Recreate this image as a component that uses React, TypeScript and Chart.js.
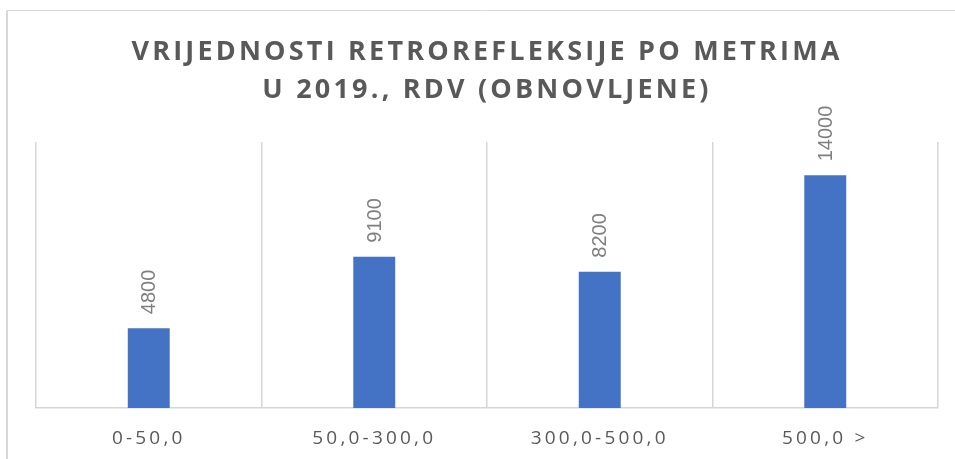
import React, { useEffect, useRef } from "react";
import { Chart, registerables } from "chart.js";

Chart.register(...registerables);

const categories = ["0-50,0", "50,0-300,0", "300,0-500,0", "500,0 >"];
const values = [4800, 9100, 8200, 14000];
const titleLines = ["VRIJEDNOSTI RETROREFLEKSIJE PO METRIMA", "U 2019., RDV (OBNOVLJENE)"];

const spacingPlugin = {
  id: "spacing",
  beforeDraw(chart: any) {
    const ctx = chart.ctx;
    ctx.save();
    ctx.fillStyle = "#ffffff";
    ctx.fillRect(0, 0, chart.width, chart.height);
    ctx.strokeStyle = "#d9d9d9";
    ctx.lineWidth = 1;
    ctx.beginPath();
    ctx.moveTo(7, chart.height + 5);
    ctx.lineTo(7, 10.5);
    ctx.lineTo(chart.width + 5, 10.5);
    ctx.stroke();
    ctx.lineWidth = 2;
    ctx.beginPath();
    ctx.moveTo(7, chart.height + 5);
    ctx.lineTo(7, 10.5);
    ctx.stroke();
    ctx.restore();
    (ctx as any).letterSpacing = "3.2px";
  },
};

const valueLabelPlugin = {
  id: "valueLabels",
  afterDatasetsDraw(chart: any) {
    const ctx = chart.ctx;
    const meta = chart.getDatasetMeta(0);
    ctx.save();
    (ctx as any).letterSpacing = "0px";
    ctx.font = "20px 'Liberation Sans', Arial, sans-serif";
    ctx.fillStyle = "#7f7f7f";
    ctx.textAlign = "left";
    ctx.textBaseline = "middle";
    meta.data.forEach((bar: any, i: number) => {
      ctx.save();
      ctx.translate(bar.x + 1, bar.y - 14);
      ctx.rotate(-Math.PI / 2);
      ctx.fillText(String(values[i]), 0, 0);
      ctx.restore();
    });
    ctx.restore();
  },
};

export default function App() {
  const ref = useRef<HTMLCanvasElement | null>(null);
  useEffect(() => {
    if (!ref.current) return;
    const chart = new Chart(ref.current, {
      type: "bar",
      data: {
        labels: categories,
        datasets: [
          {
            data: values,
            backgroundColor: "#4472c4",
            barPercentage: 0.186,
            categoryPercentage: 1,
          },
        ],
      },
      options: {
        responsive: false,
        animation: false,
        layout: { padding: { left: 36, right: 17, top: 0, bottom: 0 } },
        plugins: {
          legend: { display: false },
          tooltip: { enabled: false },
          title: {
            display: true,
            text: titleLines,
            color: "#595959",
            font: { family: "'Open Sans', sans-serif", size: 27, weight: "bold", lineHeight: "37.5px" },
            padding: { top: 34, bottom: 33 },
          },
        },
        scales: {
          x: {
            grid: { color: "#d6d6d6", lineWidth: 1.5, drawTicks: false, offset: true },
            border: { color: "#d6d6d6", width: 1.5 },
            ticks: {
              color: "#595959",
              font: { family: "'Open Sans', sans-serif", size: 19 },
              padding: 19,
              maxRotation: 0,
              autoSkip: false,
            },
            afterFit: (s: any) => {
              s.height = 51;
            },
          },
          y: { display: false, min: 0, max: 16000 },
        },
      },
      plugins: [spacingPlugin, valueLabelPlugin],
    });
    return () => chart.destroy();
  }, []);
  return (
    <div style={{ position: "fixed", left: 0, top: 0, width: 955, height: 459 }}>
      <canvas ref={ref} width={955} height={459} style={{ display: "block" }} />
    </div>
  );
}
